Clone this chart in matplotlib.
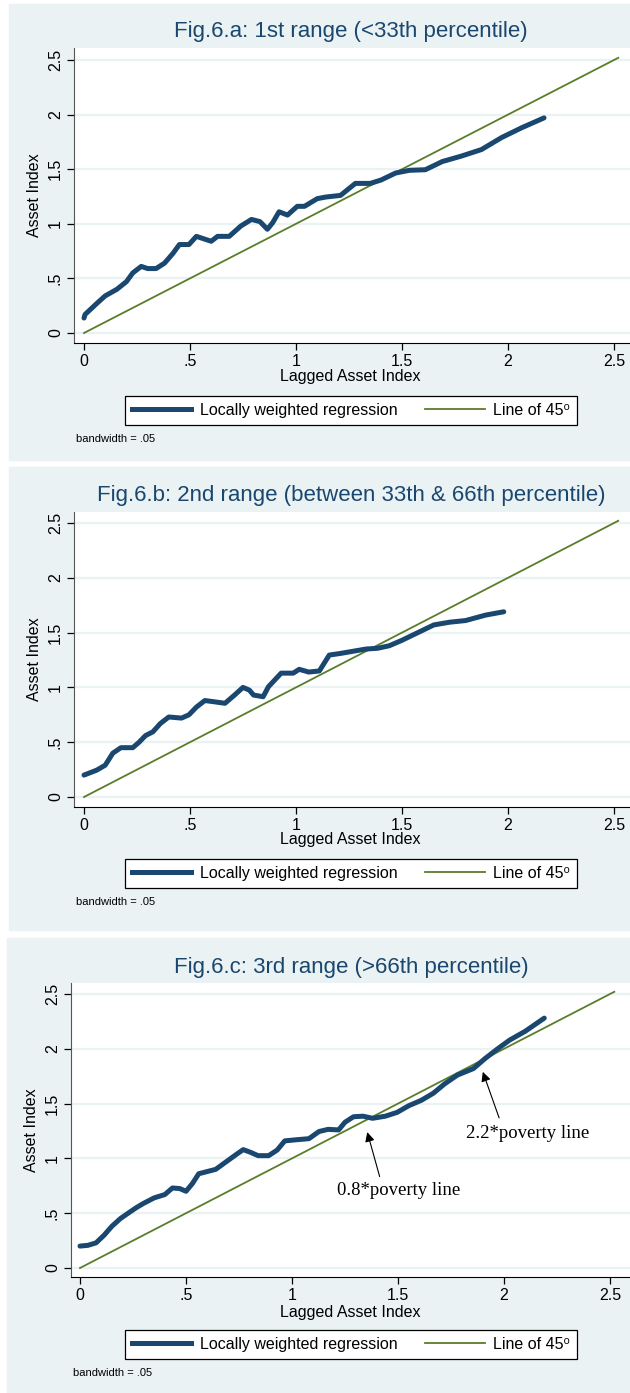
import matplotlib
matplotlib.use("Agg")
import matplotlib.pyplot as plt
from matplotlib.patches import Rectangle
from matplotlib.lines import Line2D

plt.rcParams['font.family'] = ['Liberation Sans', 'DejaVu Sans']

# figure size in pixels
W, H = 630, 1393

# lowess curves
x_a = [0.0, 0.005, 0.06, 0.10, 0.155, 0.20, 0.23, 0.27, 0.30, 0.34, 0.38, 0.42, 0.45, 0.495,
       0.53, 0.60, 0.63, 0.685, 0.74, 0.79, 0.83, 0.865, 0.89, 0.92, 0.96, 1.006, 1.04, 1.10,
       1.14, 1.21, 1.28, 1.35, 1.40, 1.47, 1.535, 1.61, 1.69, 1.78, 1.875, 1.97, 2.065, 2.17]
y_a = [0.137, 0.17, 0.27, 0.34, 0.40, 0.47, 0.55, 0.61, 0.59, 0.59, 0.64, 0.73, 0.81, 0.81,
       0.885, 0.84, 0.885, 0.885, 0.98, 1.04, 1.02, 0.95, 1.01, 1.11, 1.08, 1.16, 1.16, 1.23,
       1.245, 1.26, 1.37, 1.37, 1.40, 1.465, 1.49, 1.495, 1.57, 1.62, 1.68, 1.79, 1.88, 1.97]

x_b = [0.0, 0.06, 0.10, 0.136, 0.174, 0.23, 0.26, 0.29, 0.325, 0.36, 0.40, 0.46, 0.495, 0.53,
       0.57, 0.61, 0.665, 0.71, 0.75, 0.78, 0.80, 0.845, 0.87, 0.93, 0.987, 1.015, 1.06, 1.11,
       1.157, 1.21, 1.27, 1.33, 1.385, 1.44, 1.50, 1.575, 1.65, 1.725, 1.80, 1.895, 1.98]
y_b = [0.20, 0.245, 0.29, 0.40, 0.45, 0.45, 0.50, 0.56, 0.595, 0.67, 0.73, 0.72, 0.75, 0.82,
       0.88, 0.87, 0.855, 0.93, 1.0, 0.975, 0.93, 0.915, 1.006, 1.13, 1.13, 1.165, 1.14, 1.15,
       1.295, 1.31, 1.33, 1.35, 1.357, 1.38, 1.43, 1.50, 1.57, 1.595, 1.61, 1.66, 1.69]

x_c = [0.0, 0.038, 0.076, 0.114, 0.15, 0.19, 0.227, 0.265, 0.30, 0.35, 0.40, 0.436, 0.47, 0.50,
       0.53, 0.56, 0.60, 0.64, 0.69, 0.74, 0.77, 0.805, 0.84, 0.89, 0.93, 0.966, 1.02, 1.08,
       1.127, 1.17, 1.22, 1.25, 1.29, 1.335, 1.38, 1.44, 1.496, 1.55, 1.61, 1.667, 1.72, 1.78,
       1.856, 1.91, 1.97, 2.027, 2.10, 2.19]
y_c = [0.20, 0.207, 0.23, 0.30, 0.38, 0.45, 0.50, 0.55, 0.59, 0.64, 0.67, 0.73, 0.725, 0.70,
       0.77, 0.86, 0.88, 0.90, 0.97, 1.04, 1.08, 1.055, 1.025, 1.025, 1.076, 1.16, 1.17, 1.18,
       1.245, 1.265, 1.26, 1.33, 1.38, 1.385, 1.366, 1.385, 1.42, 1.48, 1.53, 1.595, 1.68, 1.76,
       1.82, 1.91, 2.0, 2.08, 2.16, 2.28]

line45 = [0.0, 2.52]

titles = ["Fig.6.a: 1st range (<33th percentile)",
          "Fig.6.b: 2nd range (between 33th & 66th percentile)",
          "Fig.6.c: 3rd range (>66th percentile)"]
ticks = [0, 0.5, 1, 1.5, 2, 2.5]
tick_labels = ["0", ".5", "1", "1.5", "2", "2.5"]

navy = '#1a476f'
green = '#5a7d2a'
bg = '#eaf2f3'

fig = plt.figure(figsize=(W / 100, H / 100), dpi=100)


def fx(px):
    return px / W


def fy(py):
    return 1 - py / H


# panel layouts in pixels: bg box, axes box, data position of x=0 / y=0 / y=2.5
panels = [
    dict(bg=(9, 4, 630, 460), ax=(74, 48, 630, 343), x0=84, y0=333, y25=60,
         title_y=32, xlab_y=377, leg_y=410.5, bw=(76, 439)),
    dict(bg=(9, 467, 630, 930), ax=(74, 512, 630, 807), x0=84, y0=797, y25=523,
         title_y=496, xlab_y=840, leg_y=873.5, bw=(76, 902)),
    dict(bg=(7, 938, 630, 1393), ax=(71, 983, 630, 1277), x0=80, y0=1268, y25=994,
         title_y=967, xlab_y=1312, leg_y=1344.5, bw=(73, 1373)),
]
curves = [(x_a, y_a), (x_b, y_b), (x_c, y_c)]

for i, p in enumerate(panels):
    l, t, r, b = p['bg']
    fig.patches.append(Rectangle((fx(l), fy(b)), fx(r - l), (b - t) / H,
                                 transform=fig.transFigure, color=bg, zorder=-10))
    al, at, ar, ab = p['ax']
    ax = fig.add_axes([fx(al), fy(ab), fx(ar - al), (ab - at) / H])
    ax.set_facecolor('white')

    xs = 212.0
    ys = (p['y0'] - p['y25']) / 2.5
    ax.set_xlim(-(p['x0'] - al) / xs, (ar - p['x0']) / xs)
    ax.set_ylim(-(ab - p['y0']) / ys, 2.5 + (p['y25'] - at) / ys)

    ax.plot(line45, line45, color=green, lw=1.3, zorder=2)
    ax.plot(curves[i][0], curves[i][1], color=navy, lw=3.6, zorder=3,
            solid_capstyle='round', solid_joinstyle='round')

    ax.set_xticks(ticks)
    ax.set_xticklabels(tick_labels)
    ax.set_yticks(ticks)
    ax.set_yticklabels(tick_labels, rotation=90, va='center')
    ax.tick_params(direction='out', length=5, width=0.9, labelsize=11.5, pad=3)
    ax.grid(axis='y', color=bg, lw=1.6)
    ax.set_axisbelow(True)
    for s in ['top', 'right']:
        ax.spines[s].set_visible(False)
    ax.spines['left'].set_color('#555555')
    ax.spines['bottom'].set_color('black')
    ax.set_ylabel("Asset Index", fontsize=11.5, labelpad=4)

    fig.text(0.557, fy(p['title_y']), titles[i], ha='center', va='center',
             fontsize=16, color=navy)
    fig.text(fx(350), fy(p['xlab_y']), "Lagged Asset Index", ha='center', va='center',
             fontsize=11.5)
    fig.text(fx(p['bw'][0]), fy(p['bw'][1]), "bandwidth = .05", ha='left', va='center',
             fontsize=8)

    handles = [Line2D([], [], color=navy, lw=3.6),
               Line2D([], [], color=green, lw=1.3)]
    leg = fig.legend(handles, ["Locally weighted regression", "Line of 45\u2070"],
                     loc='center', bbox_to_anchor=(fx(351), fy(p['leg_y'])),
                     ncol=2, fontsize=11.5, frameon=True, fancybox=False,
                     edgecolor='black', framealpha=1, handlelength=3.7,
                     columnspacing=1.75, borderpad=0.45, handletextpad=0.55)
    leg.get_frame().set_linewidth(0.9)

    if i == 2:
        ax.annotate("2.2*poverty line", xy=(1.90, 1.79), xytext=(1.82, 1.23),
                    fontsize=13.5, family=['Liberation Serif', 'DejaVu Serif'],
                    ha='left', va='center',
                    arrowprops=dict(arrowstyle='-|>', color='black', lw=0.8,
                                    shrinkA=0, shrinkB=0, mutation_scale=14,
                                    relpos=(0.27, 1.4)))
        ax.annotate("0.8*poverty line", xy=(1.355, 1.24), xytext=(1.21, 0.71),
                    fontsize=13.5, family=['Liberation Serif', 'DejaVu Serif'],
                    ha='left', va='center',
                    arrowprops=dict(arrowstyle='-|>', color='black', lw=0.8,
                                    shrinkA=0, shrinkB=0, mutation_scale=14,
                                    relpos=(0.35, 1.3)))

fig.savefig("out.png", dpi=100, facecolor='white')
